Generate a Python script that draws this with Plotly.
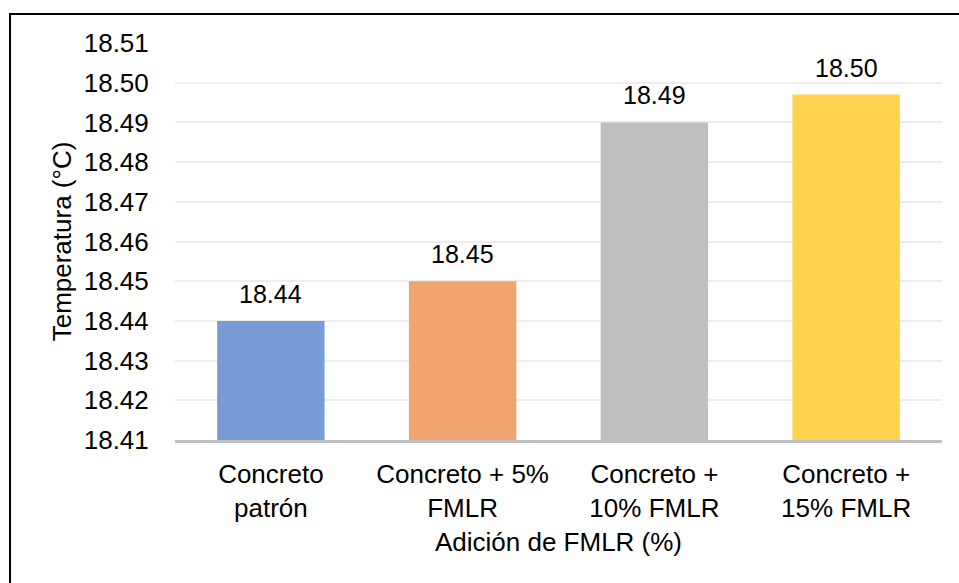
import plotly.graph_objects as go

# Mix designs and measured temperature (°C)
categories = ["Concreto<br>patrón", "Concreto + 5%<br>FMLR", "Concreto +<br>10% FMLR", "Concreto +<br>15% FMLR"]
temperatures = [18.44, 18.45, 18.49, 18.497]
bar_colors = ["#7A9CD6", "#F0A56E", "#BFBFBF", "#FFD34F"]
y_ticks = [18.41, 18.42, 18.43, 18.44, 18.45, 18.46, 18.47, 18.48, 18.49, 18.50, 18.51]

FONT = "Liberation Sans, Arial, sans-serif"
SIZE = 26

fig = go.Figure(
    go.Bar(
        x=categories,
        y=temperatures,
        marker=dict(color=bar_colors, line=dict(width=0)),
        width=0.56,
        hoverinfo="x+y",
    )
)

# value labels sitting above each bar
annotations = [
    dict(
        x=c,
        y=v,
        xref="x",
        yref="y",
        text=f"{v:.2f}",
        showarrow=False,
        yanchor="bottom",
        yshift=11,
        font=dict(family=FONT, size=SIZE - 1, color="#000000"),
    )
    for c, v in zip(categories, temperatures)
]

fig.update_layout(
    width=959,
    height=583,
    margin=dict(l=175, r=17, t=43, b=143),
    paper_bgcolor="white",
    plot_bgcolor="white",
    showlegend=False,
    font=dict(family=FONT, size=SIZE, color="#000000"),
    annotations=annotations,
    xaxis=dict(
        showline=True,
        linecolor="#BFBFBF",
        linewidth=3,
        ticks="outside",
        ticklen=9,
        tickcolor="rgba(0,0,0,0)",
        tickfont=dict(size=SIZE),
        title=dict(text="Adición de FMLR (%)", font=dict(size=SIZE), standoff=11),
    ),
    yaxis=dict(
        range=[18.41, 18.51],
        tickvals=y_ticks,
        ticktext=[f"{v:.2f}" for v in y_ticks],
        showgrid=True,
        gridcolor="#EDEDED",
        gridwidth=1.5,
        zeroline=False,
        showline=False,
        ticks="outside",
        ticklen=20,
        tickcolor="rgba(0,0,0,0)",
        tickfont=dict(size=SIZE),
        title=dict(text="Temperatura (°C)", font=dict(size=SIZE), standoff=4),
    ),
    shapes=[
        # chart frame: left and top edges
        dict(
            type="path",
            xref="paper",
            yref="paper",
            path="M -0.2151 -0.40 L -0.2151 1.0730 L 1.05 1.0730",
            line=dict(color="#000000", width=2),
        )
    ],
)

fig.write_html("out.html")
